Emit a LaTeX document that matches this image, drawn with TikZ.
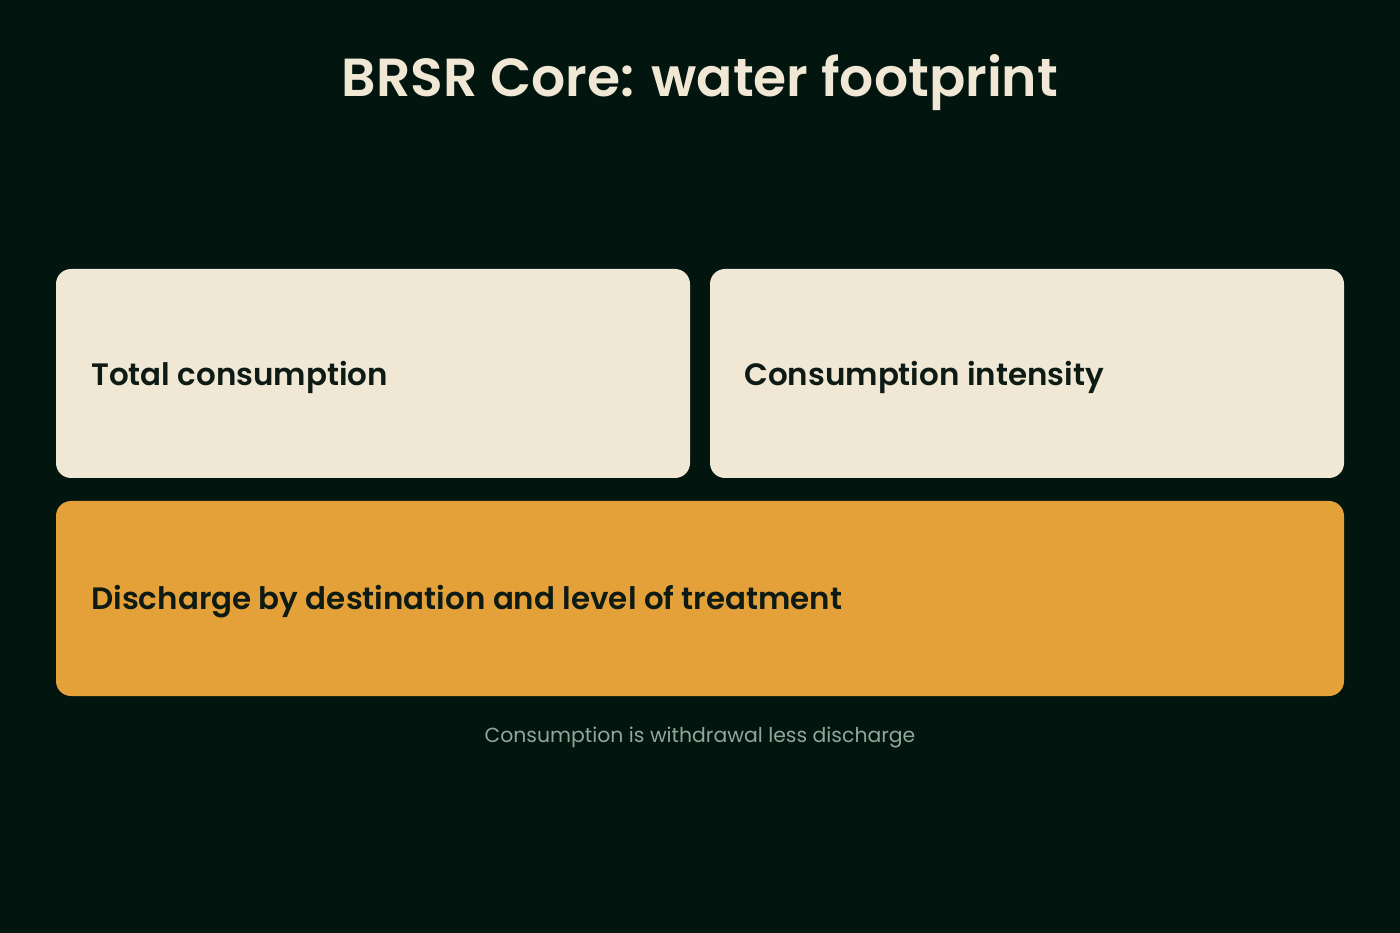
\documentclass[tikz,border=0pt]{standalone}
\usepackage{fontspec}
\setmainfont{Poppins}[BoldFont={* SemiBold}]
\definecolor{bgdark}{HTML}{02150F}
\definecolor{cream}{HTML}{F0E8D5}
\definecolor{amber}{HTML}{E5A139}
\definecolor{inkdark}{HTML}{0E1A14}
\definecolor{sage}{HTML}{8FA89A}
\tikzset{
  card/.style={rounded corners=0.3cm,draw=none},
  cardlabel/.style={anchor=base west,inner sep=0pt,text=inkdark,font=\fontsize{17.6}{20}\selectfont\bfseries}
}
\begin{document}
\begin{tikzpicture}
        \fill[bgdark] (0,0) rectangle (28,-18.66);
        \useasboundingbox (0,0) rectangle (28,-18.66);
        \node[text=cream,font=\fontsize{30.5}{35}\selectfont\bfseries] (title) at (14,-1.66) {BRSR Core: water footprint};
        \fill[card,cream] (1.12,-5.38) rectangle (13.8,-9.56);
        \fill[card,cream] (14.2,-5.38) rectangle (26.88,-9.56);
        \fill[card,amber] (1.12,-10.02) rectangle (26.88,-13.92);
        \node[cardlabel] (total) at (1.82,-7.72) {Total consumption};
        \node[cardlabel] (intensity) at (14.88,-7.72) {Consumption intensity};
        \node[cardlabel] (discharge) at (1.82,-12.2) {Discharge by destination and level of treatment};
        \node[text=sage,font=\fontsize{11.6}{14}\selectfont] (note) at (14,-14.74) {Consumption is withdrawal less discharge};
        \end{tikzpicture}
\end{document}
